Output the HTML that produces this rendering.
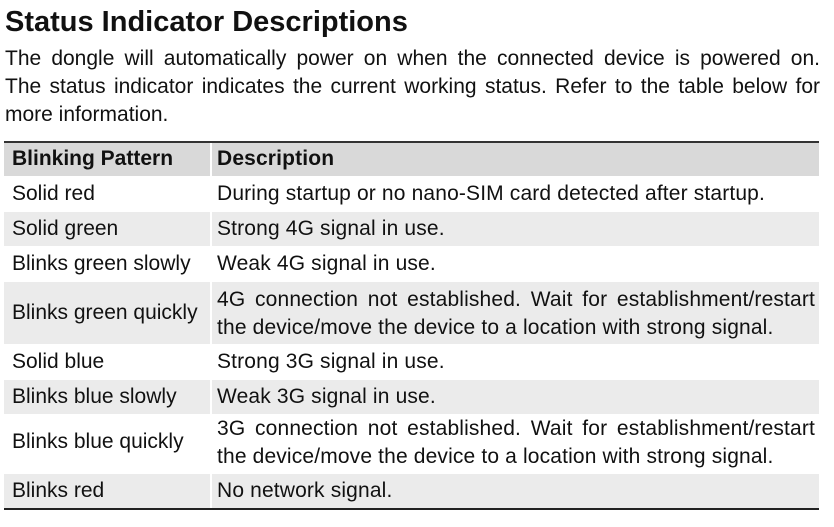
<!DOCTYPE html>
<html><head><meta charset="utf-8"><style>
body{margin:0;width:834px;height:527px;background:#fff;font-family:"Liberation Sans",sans-serif;color:#111;position:relative;overflow:hidden}
h1{position:absolute;left:5px;top:6px;margin:0;font-size:29px;font-weight:bold;white-space:nowrap}
.pl{position:absolute;left:5px;width:815px;font-size:21px;text-align:justify;text-align-last:justify;white-space:nowrap}
.r{position:absolute;left:4px;width:815px;font-size:21px}
.c1{position:absolute;left:8px;white-space:nowrap}
.c2{position:absolute;left:213px;width:598px;line-height:28px;white-space:nowrap;letter-spacing:0.15px}
.j{text-align:justify;text-align-last:justify}
.g{background:#ebebeb}
.h{background:#d9d9d9;font-weight:bold}
.sep{position:absolute;left:206px;top:0;bottom:0;width:2px;background:#fff}
</style></head><body>
<h1>Status Indicator Descriptions</h1>
<div class="pl" style="top:47px">The dongle will automatically power on when the connected device is powered on.</div>
<div class="pl" style="top:75px">The status indicator indicates the current working status. Refer to the table below for</div>
<div class="pl" style="top:103px;text-align-last:left">more information.</div>
<div style="position:absolute;left:4px;top:141px;width:815px;height:2px;background:#333"></div>
<div class="r h" style="top:143px;height:33px"><div class="sep"></div><div class="c1" style="top:4px">Blinking Pattern</div><div class="c2" style="top:2px">Description</div></div>
<div class="r" style="top:177px;height:34px"><div class="c1" style="top:5px">Solid red</div><div class="c2" style="top:3px">During startup or no nano-SIM card detected after startup.</div></div>
<div class="r g" style="top:212px;height:34px"><div class="sep"></div><div class="c1" style="top:5px">Solid green</div><div class="c2" style="top:3px">Strong 4G signal in use.</div></div>
<div class="r" style="top:247px;height:34px"><div class="c1" style="top:5px">Blinks green slowly</div><div class="c2" style="top:3px">Weak 4G signal in use.</div></div>
<div class="r g" style="top:282px;height:62px"><div class="sep"></div><div class="c1" style="top:19px">Blinks green quickly</div><div class="c2" style="top:4px"><div class="j">4G connection not established. Wait for establishment/restart</div><div>the device/move the device to a location with strong signal.</div></div></div>
<div class="r" style="top:345px;height:34px"><div class="c1" style="top:5px">Solid blue</div><div class="c2" style="top:3px">Strong 3G signal in use.</div></div>
<div class="r g" style="top:380px;height:34px"><div class="sep"></div><div class="c1" style="top:5px">Blinks blue slowly</div><div class="c2" style="top:3px">Weak 3G signal in use.</div></div>
<div class="r" style="top:415px;height:58px"><div class="c1" style="top:15px">Blinks blue quickly</div><div class="c2" style="top:0px"><div class="j">3G connection not established. Wait for establishment/restart</div><div>the device/move the device to a location with strong signal.</div></div></div>
<div class="r g" style="top:474px;height:34px"><div class="sep"></div><div class="c1" style="top:5px">Blinks red</div><div class="c2" style="top:3px">No network signal.</div></div>
<div style="position:absolute;left:4px;top:508px;width:815px;height:2px;background:#222"></div>
</body></html>
